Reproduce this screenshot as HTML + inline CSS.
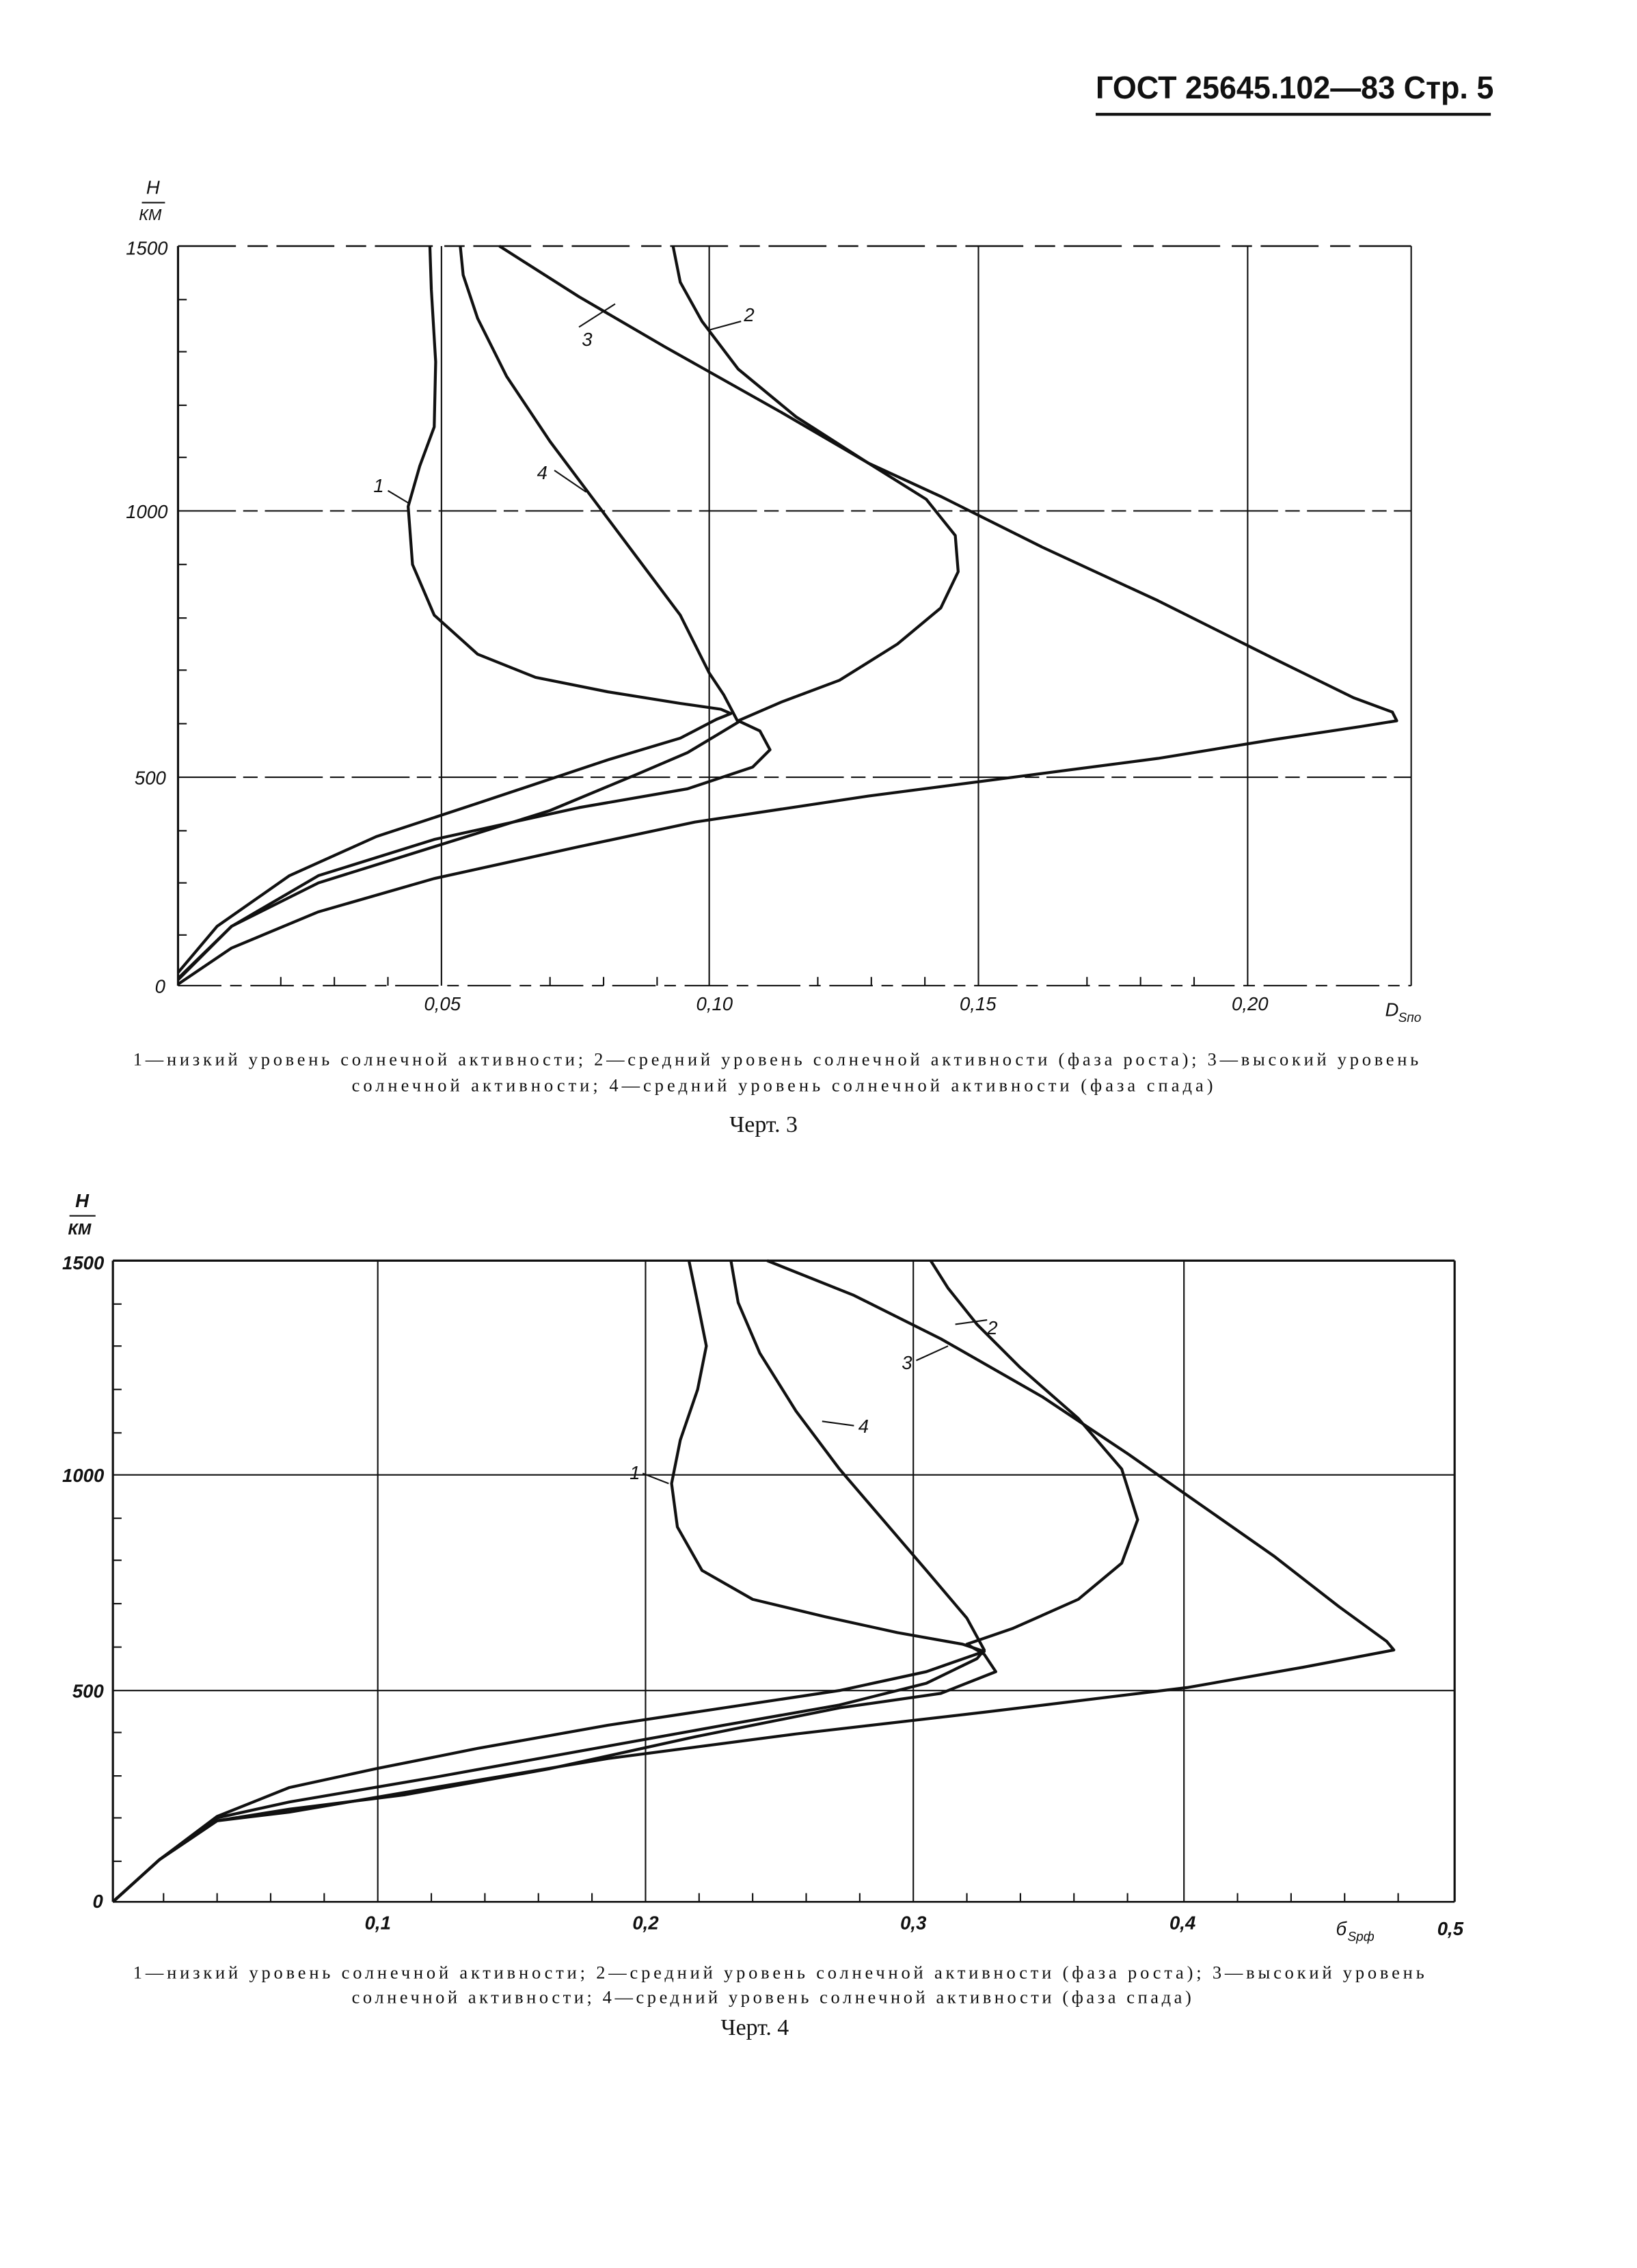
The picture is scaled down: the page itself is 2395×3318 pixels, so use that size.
<!DOCTYPE html>
<html><head><meta charset="utf-8"><style>
html,body{margin:0;padding:0;background:#fff;}
svg{display:block;}
text{font-family:"Liberation Sans",sans-serif;fill:#111;}
.it{font-style:italic;}
.cap{font-family:"Liberation Serif",serif;font-size:12.5px;}
</style></head><body>
<svg width="2395" height="3318" viewBox="0 0 1131 1567" preserveAspectRatio="none" xmlns="http://www.w3.org/2000/svg">
<g stroke="#111" fill="none">
<text x="757" y="68" style="font-size:22px;font-weight:bold" stroke="none" textLength="275" lengthAdjust="spacingAndGlyphs">ГОСТ  25645.102—83  Стр. 5</text>
<line x1="757" y1="79" x2="1030" y2="79" stroke-width="2"/>

<!-- CHART 1 -->
<line x1="123" y1="170" x2="123" y2="681" stroke-width="1.5"/>
<line x1="123" y1="681" x2="975" y2="681" stroke-width="1" stroke-dasharray="30 6 8 6"/>
<line x1="123" y1="170" x2="975" y2="170" stroke-width="1.2" stroke-dasharray="40 8 14 6"/>
<line x1="975" y1="170" x2="975" y2="681" stroke-width="1"/>
<line x1="123" y1="353" x2="975" y2="353" stroke-width="1" stroke-dasharray="40 5 10 5"/>
<line x1="123" y1="537" x2="975" y2="537" stroke-width="1" stroke-dasharray="40 5 10 5"/>
<g stroke-width="1">
<line x1="305" y1="170" x2="305" y2="681"/><line x1="490" y1="170" x2="490" y2="681"/>
<line x1="676" y1="170" x2="676" y2="681"/><line x1="862" y1="170" x2="862" y2="681"/>
</g>
<g stroke-width="1">
<line x1="123" y1="207" x2="129" y2="207"/><line x1="123" y1="243" x2="129" y2="243"/><line x1="123" y1="280" x2="129" y2="280"/><line x1="123" y1="316" x2="129" y2="316"/>
<line x1="123" y1="390" x2="129" y2="390"/><line x1="123" y1="427" x2="129" y2="427"/><line x1="123" y1="463" x2="129" y2="463"/><line x1="123" y1="500" x2="129" y2="500"/>
<line x1="123" y1="574" x2="129" y2="574"/><line x1="123" y1="610" x2="129" y2="610"/><line x1="123" y1="646" x2="129" y2="646"/>
<line x1="194" y1="681" x2="194" y2="675"/><line x1="231" y1="681" x2="231" y2="675"/><line x1="268" y1="681" x2="268" y2="675"/>
<line x1="380" y1="681" x2="380" y2="675"/><line x1="417" y1="681" x2="417" y2="675"/><line x1="454" y1="681" x2="454" y2="675"/>
<line x1="565" y1="681" x2="565" y2="675"/><line x1="602" y1="681" x2="602" y2="675"/><line x1="639" y1="681" x2="639" y2="675"/>
<line x1="751" y1="681" x2="751" y2="675"/><line x1="788" y1="681" x2="788" y2="675"/><line x1="825" y1="681" x2="825" y2="675"/>
</g>
<g stroke-width="2" stroke-linejoin="round">
<polyline points="123,672 150,640 200,605 260,578 330,555 420,525 470,510 495,497 505,493 498,490 470,486 420,478 370,468 330,452 300,425 285,390 282,350 290,322 300,295 301,250 298,200 297,170"/>
<polyline points="123,676 160,640 220,605 300,580 400,558 475,545 520,530 532,518 525,505 510,498 540,485 580,470 620,445 650,420 662,395 660,370 640,345 600,320 550,288 510,255 485,222 470,195 465,170"/>
<polyline points="123,680 160,655 220,630 300,607 400,585 480,568 600,550 700,537 800,524 880,511 940,502 965,498 962,492 935,482 880,455 800,415 720,378 650,343 600,320 540,285 460,240 400,205 345,170"/>
<polyline points="123,677 160,640 220,610 300,585 380,560 440,535 475,520 495,508 510,499 500,480 490,465 470,425 440,385 410,345 380,305 350,260 330,220 320,190 318,170"/>
</g>
<g stroke-width="1">
<line x1="268" y1="339" x2="283" y2="348"/><line x1="383" y1="325" x2="405" y2="340"/><line x1="400" y1="226" x2="425" y2="210"/><line x1="490" y1="228" x2="512" y2="222"/>
</g>
<g stroke="none" class="it" style="font-size:13px">
<text x="101" y="134">H</text><line x1="98" y1="140" x2="114" y2="140" stroke="#111"/><text x="96" y="152" style="font-size:11px">КМ</text>
<text x="87" y="176">1500</text><text x="87" y="358">1000</text><text x="93" y="542">500</text><text x="107" y="686">0</text>
<text x="293" y="698">0,05</text><text x="481" y="698">0,10</text><text x="663" y="698">0,15</text><text x="851" y="698">0,20</text>
<text x="957" y="702">D</text><text x="966" y="706" style="font-size:9px">Sпо</text>
<text x="258" y="340">1</text><text x="371" y="331">4</text><text x="402" y="239">3</text><text x="514" y="222">2</text>
</g>
<text class="cap" x="92" y="736" stroke="none" textLength="888" lengthAdjust="spacing">1—низкий уровень солнечной активности; 2—средний уровень солнечной активности (фаза роста); 3—высокий уровень</text>
<text class="cap" x="243" y="754" stroke="none" textLength="595" lengthAdjust="spacing">солнечной активности; 4—средний уровень солнечной активности (фаза спада)</text>
<text x="504" y="782" stroke="none" style="font-family:'Liberation Serif',serif;font-size:16px">Черт. 3</text>

<!-- CHART 2 -->
<line x1="78" y1="871" x2="78" y2="1314" stroke-width="1.5"/>
<line x1="78" y1="1314" x2="1005" y2="1314" stroke-width="1.2"/>
<line x1="78" y1="871" x2="1005" y2="871" stroke-width="1.5"/>
<line x1="1005" y1="871" x2="1005" y2="1314" stroke-width="1.5"/>
<line x1="78" y1="1019" x2="1005" y2="1019" stroke-width="1"/>
<line x1="78" y1="1168" x2="1005" y2="1168" stroke-width="1"/>
<g stroke-width="1">
<line x1="261" y1="871" x2="261" y2="1314"/><line x1="446" y1="871" x2="446" y2="1314"/>
<line x1="631" y1="871" x2="631" y2="1314"/><line x1="818" y1="871" x2="818" y2="1314"/>
</g>
<g stroke-width="1">
<line x1="78" y1="901" x2="84" y2="901"/><line x1="78" y1="930" x2="84" y2="930"/><line x1="78" y1="960" x2="84" y2="960"/><line x1="78" y1="990" x2="84" y2="990"/>
<line x1="78" y1="1049" x2="84" y2="1049"/><line x1="78" y1="1078" x2="84" y2="1078"/><line x1="78" y1="1108" x2="84" y2="1108"/><line x1="78" y1="1138" x2="84" y2="1138"/>
<line x1="78" y1="1197" x2="84" y2="1197"/><line x1="78" y1="1227" x2="84" y2="1227"/><line x1="78" y1="1256" x2="84" y2="1256"/><line x1="78" y1="1286" x2="84" y2="1286"/>
<line x1="113" y1="1314" x2="113" y2="1308"/><line x1="150" y1="1314" x2="150" y2="1308"/><line x1="187" y1="1314" x2="187" y2="1308"/><line x1="224" y1="1314" x2="224" y2="1308"/>
<line x1="298" y1="1314" x2="298" y2="1308"/><line x1="335" y1="1314" x2="335" y2="1308"/><line x1="372" y1="1314" x2="372" y2="1308"/><line x1="409" y1="1314" x2="409" y2="1308"/>
<line x1="483" y1="1314" x2="483" y2="1308"/><line x1="520" y1="1314" x2="520" y2="1308"/><line x1="557" y1="1314" x2="557" y2="1308"/><line x1="594" y1="1314" x2="594" y2="1308"/>
<line x1="668" y1="1314" x2="668" y2="1308"/><line x1="705" y1="1314" x2="705" y2="1308"/><line x1="742" y1="1314" x2="742" y2="1308"/><line x1="779" y1="1314" x2="779" y2="1308"/>
<line x1="855" y1="1314" x2="855" y2="1308"/><line x1="892" y1="1314" x2="892" y2="1308"/><line x1="929" y1="1314" x2="929" y2="1308"/><line x1="966" y1="1314" x2="966" y2="1308"/>
</g>
<g stroke-width="2" stroke-linejoin="round">
<polyline points="78,1314 110,1285 150,1255 200,1235 260,1222 330,1208 420,1192 500,1180 580,1168 640,1155 680,1141 665,1136 620,1128 570,1117 520,1105 485,1085 468,1055 464,1025 470,995 482,960 488,930 482,900 476,871"/>
<polyline points="78,1314 110,1285 150,1258 200,1250 280,1240 380,1222 480,1200 580,1180 650,1170 688,1155 680,1143 668,1136 700,1125 745,1105 775,1080 786,1050 775,1015 745,980 705,945 675,915 655,890 643,871"/>
<polyline points="78,1314 110,1285 150,1258 200,1252 300,1235 420,1215 550,1198 680,1183 820,1166 900,1152 963,1140 958,1134 925,1110 880,1075 830,1040 780,1005 720,965 650,925 590,895 530,871"/>
<polyline points="78,1314 110,1285 150,1256 200,1245 300,1228 400,1210 500,1192 580,1178 640,1163 675,1146 680,1140 668,1118 640,1085 610,1050 580,1015 550,975 525,935 510,900 505,871"/>
</g>
<g stroke-width="1">
<line x1="444" y1="1018" x2="462" y2="1025"/><line x1="568" y1="982" x2="590" y2="985"/><line x1="633" y1="940" x2="655" y2="930"/><line x1="660" y1="915" x2="682" y2="912"/>
</g>
<g stroke="none" class="it" style="font-size:13px;font-weight:bold">
<text x="52" y="834">H</text><line x1="48" y1="840" x2="66" y2="840" stroke="#111"/><text x="47" y="853" style="font-size:11px">КМ</text>
<text x="43" y="877">1500</text><text x="43" y="1024">1000</text><text x="50" y="1173">500</text><text x="64" y="1318">0</text>
<text x="252" y="1333">0,1</text><text x="437" y="1333">0,2</text><text x="622" y="1333">0,3</text><text x="808" y="1333">0,4</text>
<text x="923" y="1337" style="font-weight:normal">б</text><text x="931" y="1341" style="font-size:9px;font-weight:normal">Sрф</text><text x="993" y="1337">0,5</text>
<text x="435" y="1022" style="font-weight:normal">1</text><text x="593" y="990" style="font-weight:normal">4</text><text x="623" y="946" style="font-weight:normal">3</text><text x="682" y="922" style="font-weight:normal">2</text>
</g>
<text class="cap" x="92" y="1367" stroke="none" textLength="892" lengthAdjust="spacing">1—низкий уровень солнечной активности; 2—средний уровень солнечной активности (фаза роста); 3—высокий уровень</text>
<text class="cap" x="243" y="1384" stroke="none" textLength="580" lengthAdjust="spacing">солнечной активности; 4—средний уровень солнечной активности (фаза спада)</text>
<text x="498" y="1406" stroke="none" style="font-family:'Liberation Serif',serif;font-size:16px">Черт. 4</text>
</g>
</svg>
</body></html>
